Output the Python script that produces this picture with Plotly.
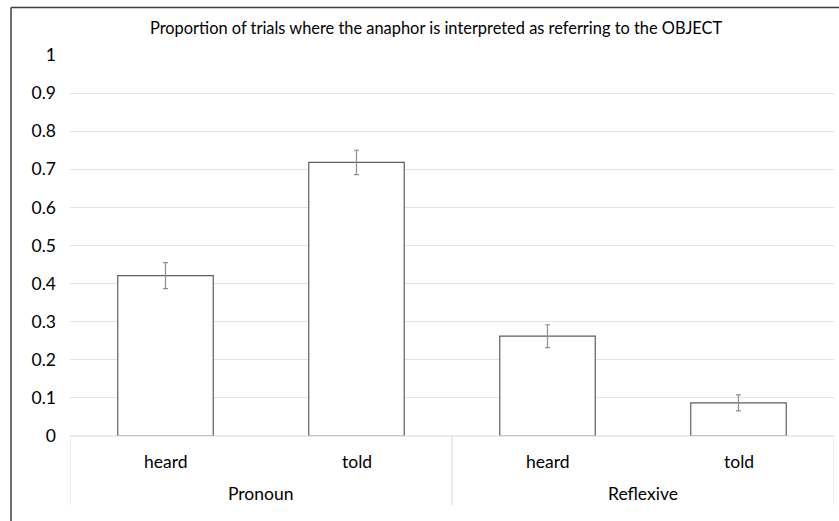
import plotly.graph_objects as go

# Data
conditions = ["heard", "told", "heard", "told"]
groups = ["Pronoun", "Reflexive"]
values = [0.421, 0.718, 0.262, 0.087]
errors = [0.034, 0.032, 0.030, 0.021]
y_ticks = [0, 0.1, 0.2, 0.3, 0.4, 0.5, 0.6, 0.7, 0.8, 0.9, 1]
title_text = "Proportion of trials where the anaphor is interpreted as referring to the OBJECT"

FONT = "Lato"
W, H = 839, 521
L, R, T, B = 70, 5, 55, 85
pw, ph = W - L - R, H - T - B

def px_x(p):
    return (p - L) / pw

def px_y(p):
    return (H - B - p) / ph

xs = list(range(len(values)))

fig = go.Figure()
fig.add_trace(go.Bar(
    x=xs, y=values, width=0.5,
    marker=dict(color="white", line=dict(color="#5f5f5f", width=1.2)),
    error_y=dict(type="data", array=errors, visible=True, color="#8f8f8f",
                 thickness=1.2, width=2.5),
    hoverinfo="skip",
))

shapes = []
# chart outer border (left and top visible)
shapes.append(dict(type="line", xref="paper", yref="paper",
                   x0=px_x(11), x1=px_x(W + 5), y0=px_y(7.5), y1=px_y(7.5),
                   line=dict(color="#404040", width=1.5)))
shapes.append(dict(type="line", xref="paper", yref="paper",
                   x0=px_x(11), x1=px_x(11), y0=px_y(7.5), y1=px_y(H + 5),
                   line=dict(color="#404040", width=1.5)))
# category axis box
shapes.append(dict(type="line", xref="paper", yref="paper",
                   x0=0, x1=1, y0=0, y1=0, line=dict(color="#d9d9d9", width=1)))
n = len(values)
per_group = n // len(groups)
for k in range(len(groups) + 1):
    xb = k * per_group - 0.5
    shapes.append(dict(type="line", xref="x", yref="paper",
                       x0=xb, x1=xb, y0=0, y1=px_y(505),
                       line=dict(color="#d9d9d9", width=1)))

annotations = []
for i, c in enumerate(conditions):
    annotations.append(dict(x=i, y=px_y(461), xref="x", yref="paper", text=c,
                            showarrow=False, font=dict(family=FONT, size=17.5, color="#000"),
                            xanchor="center", yanchor="middle"))
for g, name in enumerate(groups):
    xc = g * per_group + (per_group - 1) / 2
    annotations.append(dict(x=xc, y=px_y(493), xref="x", yref="paper", text=name,
                            showarrow=False, font=dict(family=FONT, size=17.5, color="#000"),
                            xanchor="center", yanchor="middle"))
annotations.append(dict(x=px_x(436), y=px_y(27), xref="paper", yref="paper", text=title_text,
                        showarrow=False, font=dict(family=FONT, size=16.4, color="#000"),
                        xanchor="center", yanchor="middle"))

fig.update_layout(
    width=W, height=H,
    margin=dict(l=L, r=R, t=T, b=B),
    paper_bgcolor="white", plot_bgcolor="white",
    showlegend=False,
    shapes=shapes, annotations=annotations,
    xaxis=dict(range=[-0.5, n - 0.5], showticklabels=False, showgrid=False,
               zeroline=False, showline=False, ticks=""),
    yaxis=dict(range=[0, 1], tickvals=y_ticks, ticktext=[f"{v:g}" for v in y_ticks],
               showgrid=True, gridcolor="#e3e3e3", gridwidth=1,
               zeroline=False, showline=False, ticks="", ticklabelstandoff=13,
               tickfont=dict(family=FONT, size=17.5, color="#000")),
)

fig.write_html("out.html", config={"displayModeBar": False},
               post_script="document.body.style.margin='0';document.body.style.overflow='hidden';")
